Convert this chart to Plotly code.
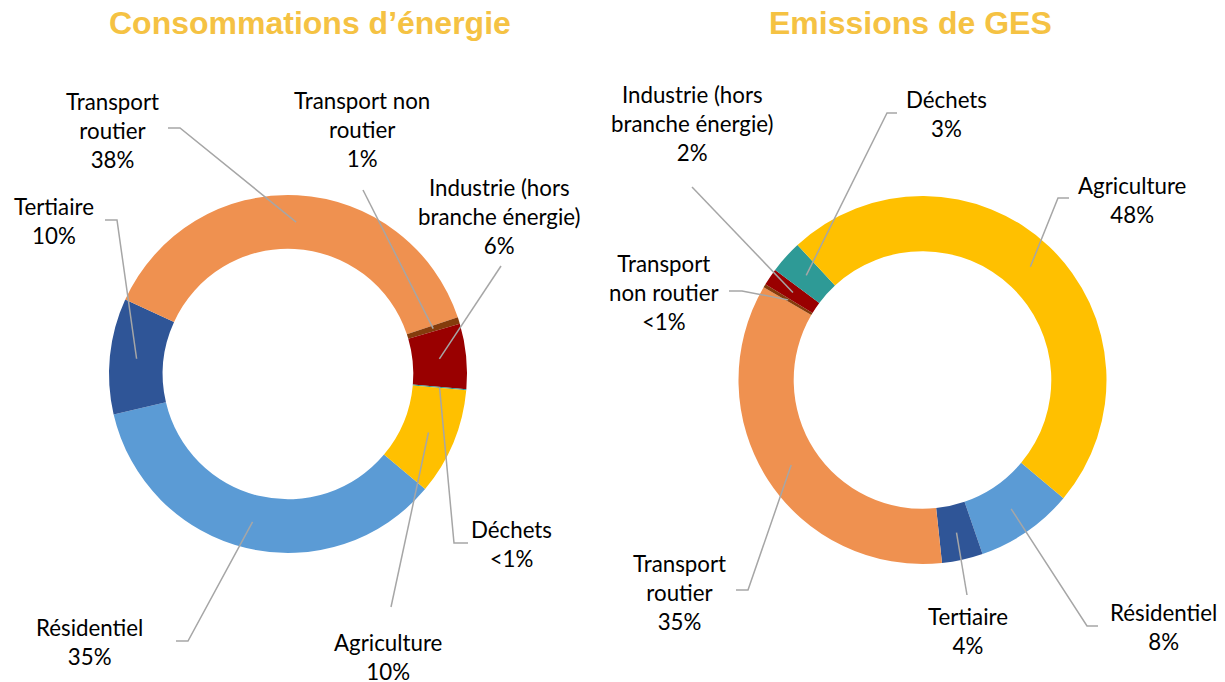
import math
import plotly.graph_objects as go

# ---------------- data ----------------
categories = ["Résidentiel", "Tertiaire", "Transport routier", "Transport non routier",
              "Industrie (hors branche énergie)", "Déchets", "Agriculture"]
energy_values = [35.4, 10.5, 38.2, 0.6, 5.9, 0.1, 9.7]
ges_values = [8.6, 3.6, 35.1, 0.3, 1.5, 2.9, 48.0]
energy_pct = ["35%", "10%", "38%", "1%", "6%", "&lt;1%", "10%"]
ges_pct = ["8%", "4%", "35%", "&lt;1%", "2%", "3%", "48%"]
energy_names = ["Résidentiel", "Tertiaire", "Transport<br>routier", "Transport non<br>routier",
                "Industrie (hors<br>branche énergie)", "Déchets", "Agriculture"]
ges_names = ["Résidentiel", "Tertiaire", "Transport<br>routier", "Transport<br>non routier",
             "Industrie (hors<br>branche énergie)", "Déchets", "Agriculture"]
titles = ["Consommations d’énergie", "Emissions de GES"]

# ---------------- styles / layout ----------------
colors = ["#5B9BD5", "#2F5597", "#EF9150", "#843C0C", "#990000", "#2E9A96", "#FFC000"]
OFF = 8                       # default page margin of the browser
W, H = 1225 - OFF, 682 - OFF
HOLE = 0.70
ROTATION = 130
LINE_COLOR = "#A6A6A6"
LABEL_FONT = dict(family="Lato", size=22.3, color="#000000")
TITLE_FONT = dict(family="Liberation Sans", size=32, color="#F5C243", weight="bold")

# donut centres / radii (page pixels)
donuts = [dict(cx=288, cy=374, r=179), dict(cx=922.5, cy=380, r=184)]
title_pos = [(310, 23), (910, 23)]

# label centres and leader elbows (page pixels), per slice in category order
energy_label_pos = [(89, 642), (54, 221), (112, 130), (362, 129), (499, 216), (511, 544), (388, 657)]
energy_elbows = [[(176, 641), (188, 641)], [(105, 220), (117, 220)], [(168, 128), (180, 128)],
                 [(363, 190)], [(501, 266)], [(468, 543), (454, 543)], [(391, 607)]]
ges_label_pos = [(1163, 627), (968, 631), (679, 592), (664, 292), (692, 123), (946, 114), (1132, 200)]
ges_elbows = [[(1098, 626), (1087, 626)], [(967, 595)], [(736, 590), (748, 590)],
              [(729, 291), (742, 291)], [(692, 187)], [(897, 113), (887, 113)],
              [(1069, 198), (1058, 198)]]


def px(x, y):
    return (x - OFF) / W, 1 - (y - OFF) / H


def domain(cx, cy, r):
    x0, y1 = px(cx - r, cy - r)
    x1, y0 = px(cx + r, cy + r)
    return dict(x=[x0, x1], y=[y0, y1])


def mid_points(values, cx, cy, r):
    total = sum(values)
    rm = r * (1 + HOLE) / 2
    cum = 0
    pts = []
    for v in values:
        a = math.radians(ROTATION + 360 * (cum + v / 2) / total)
        pts.append((cx + rm * math.sin(a), cy - rm * math.cos(a)))
        cum += v
    return pts


fig = go.Figure()
annotations = []
shapes = []

sets = [
    (energy_values, energy_names, energy_pct, energy_label_pos, energy_elbows),
    (ges_values, ges_names, ges_pct, ges_label_pos, ges_elbows),
]

for i, (vals, names, pcts, lpos, elbows) in enumerate(sets):
    d = donuts[i]
    fig.add_trace(go.Pie(
        labels=categories, values=vals, hole=HOLE, sort=False,
        direction="clockwise", rotation=ROTATION,
        marker=dict(colors=colors, line=dict(width=0)),
        textinfo="none", hoverinfo="label+percent", showlegend=False,
        domain=domain(d["cx"], d["cy"], d["r"]),
    ))
    ends = mid_points(vals, d["cx"], d["cy"], d["r"])
    for name, pct, (lx, ly), elb, end in zip(names, pcts, lpos, elbows, ends):
        x, y = px(lx, ly)
        annotations.append(dict(text=f"{name}<br>{pct}", x=x, y=y, xref="paper", yref="paper",
                                xanchor="center", yanchor="middle", showarrow=False,
                                font=LABEL_FONT, align="center"))
        pts = elb + [end]
        path = "M " + " L ".join(f"{px(a, b)[0]:.5f},{px(a, b)[1]:.5f}" for a, b in pts)
        shapes.append(dict(type="path", path=path, xref="paper", yref="paper",
                           line=dict(color=LINE_COLOR, width=1.5)))
    tx, ty = px(*title_pos[i])
    annotations.append(dict(text=titles[i], x=tx, y=ty, xref="paper", yref="paper",
                            xanchor="center", yanchor="middle", showarrow=False, font=TITLE_FONT))

fig.update_layout(
    width=W, height=H, margin=dict(l=0, r=0, t=0, b=0),
    paper_bgcolor="white", plot_bgcolor="white",
    annotations=annotations, shapes=shapes,
)

fig.write_html("out.html")
